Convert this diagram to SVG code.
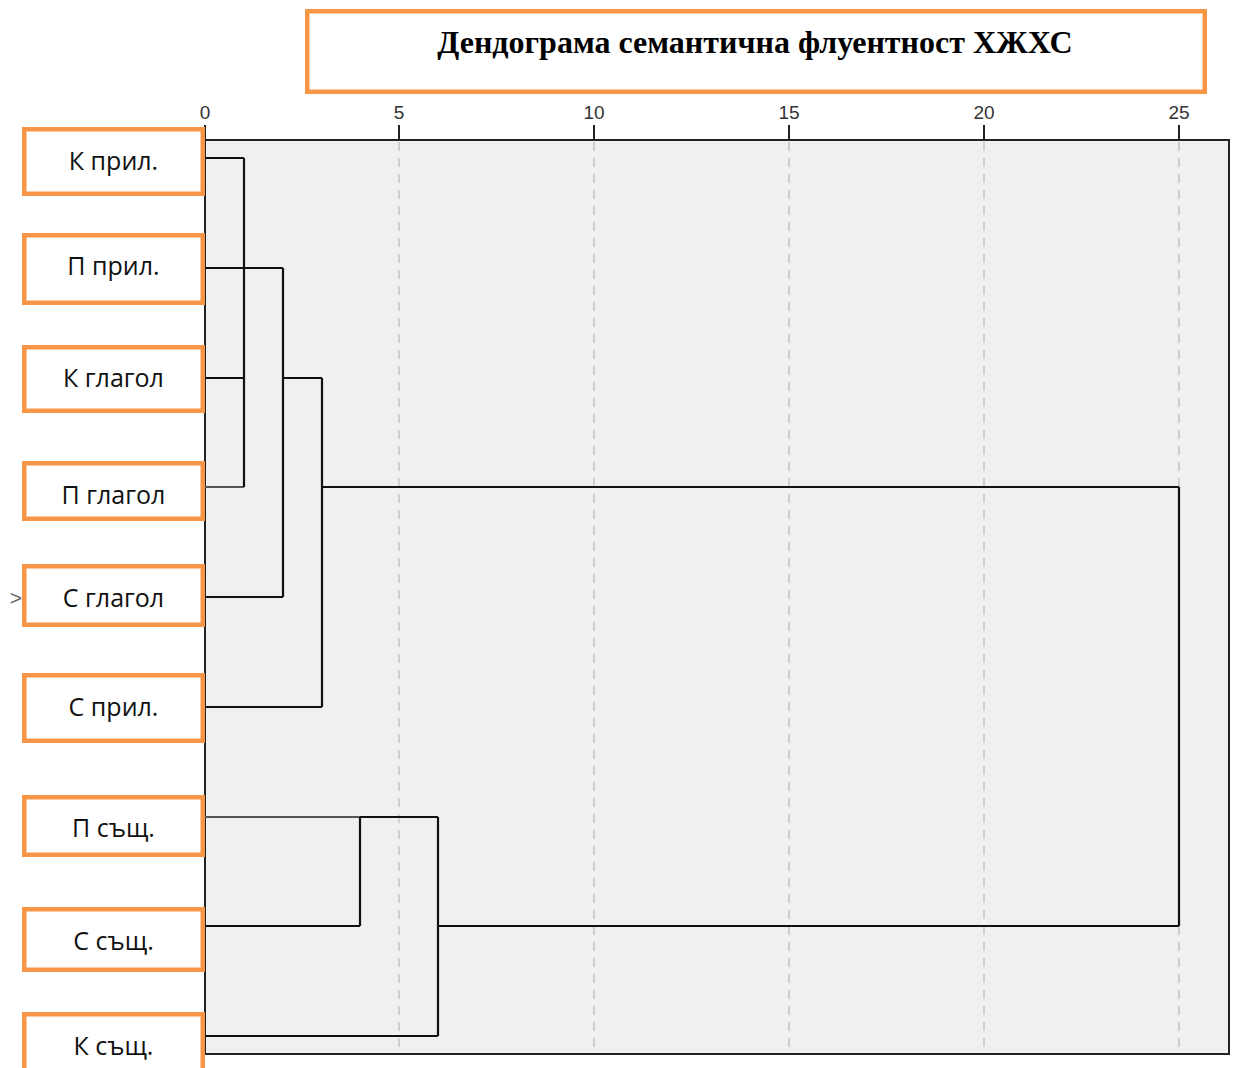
<svg xmlns="http://www.w3.org/2000/svg" width="1237" height="1068" viewBox="0 0 1237 1068">
<style>
.box{fill:#fff;stroke:#F79646;stroke-width:4.5}
.lbl{font-family:"Open Sans","DejaVu Sans",sans-serif;font-size:25px;fill:#111;text-anchor:middle}
.tick{font-family:"Liberation Sans",Arial,sans-serif;font-size:19px;fill:#333;text-anchor:middle}
.grid{stroke:#cfcfcf;stroke-width:2;stroke-dasharray:9 7;fill:none}
.dl{stroke:#111;stroke-width:2.2;fill:none}
.dg{stroke:#555;stroke-width:2;fill:none}
</style>
<rect width="1237" height="1068" fill="#fff"/>
<g id="title">
<rect x="307.25" y="11.25" width="897.5" height="80.5" class="box"/>
<text x="755" y="53" font-family="'Liberation Serif','Times New Roman',serif" font-weight="bold" font-size="32" text-anchor="middle" fill="#000">Дендограма семантична флуентност ХЖХС</text>
</g>
<g id="plot">
<rect x="205" y="140" width="1024" height="914" fill="#f0f0f0"/>
<g class="grid">
<path d="M399,142V1053M594,142V1053M789,142V1053M984,142V1053M1179,142V1053"/>
</g>
<path d="M205,140H1229V1054H205Z" fill="none" stroke="#222" stroke-width="2"/>
<path d="M205,125V140M399,125V140M594,125V140M789,125V140M984,125V140M1179,125V140" stroke="#222" stroke-width="2"/>
<text class="tick" x="205" y="119">0</text>
<text class="tick" x="399" y="119">5</text>
<text class="tick" x="594" y="119">10</text>
<text class="tick" x="789" y="119">15</text>
<text class="tick" x="984" y="119">20</text>
<text class="tick" x="1179" y="119">25</text>
</g>
<g id="connectors">
<path class="dl" d="M205,158H244"/>
<path class="dl" d="M205,268H283"/>
<path class="dl" d="M205,378H244"/>
<path class="dg" d="M205,487H244"/>
<path class="dl" d="M244,158V487"/>
<path class="dl" d="M205,597H283"/>
<path class="dl" d="M283,268V597"/>
<path class="dl" d="M283,378H322"/>
<path class="dl" d="M205,707H322"/>
<path class="dl" d="M322,378V707"/>
<path class="dl" d="M322,487H1179"/>
<path class="dg" d="M205,817H360"/>
<path class="dl" d="M360,817H438"/>
<path class="dl" d="M205,926H360"/>
<path class="dl" d="M360,817V926"/>
<path class="dl" d="M205,1036H438"/>
<path class="dl" d="M438,817V1036"/>
<path class="dl" d="M438,926H1179"/>
<path class="dl" d="M1179,487V926"/>
</g>
<g id="n1"><rect class="box" x="24.25" y="129.25" width="178.5" height="64.5"/><text class="lbl" x="113.5" y="170">К прил.</text></g>
<g id="n2"><rect class="box" x="24.25" y="235.25" width="178.5" height="67.5"/><text class="lbl" x="113.5" y="275">П прил.</text></g>
<g id="n3"><rect class="box" x="24.25" y="347.25" width="178.5" height="63.5"/><text class="lbl" x="113.5" y="387">К глагол</text></g>
<g id="n4"><rect class="box" x="24.25" y="463.25" width="178.5" height="55.5"/><text class="lbl" x="113.5" y="504">П глагол</text></g>
<g id="n5"><rect class="box" x="24.25" y="566.25" width="178.5" height="58.5"/><text class="lbl" x="113.5" y="607">С глагол</text></g>
<g id="n6"><rect class="box" x="24.25" y="675.25" width="178.5" height="65.5"/><text class="lbl" x="113.5" y="716">С прил.</text></g>
<g id="n7"><rect class="box" x="24.25" y="797.25" width="178.5" height="57.5"/><text class="lbl" x="113.5" y="837">П същ.</text></g>
<g id="n8"><rect class="box" x="24.25" y="909.25" width="178.5" height="60.5"/><text class="lbl" x="113.5" y="950">С същ.</text></g>
<g id="n9"><rect class="box" x="24.25" y="1014.25" width="178.5" height="64"/><text class="lbl" x="113.5" y="1055">К същ.</text></g>
<text x="16" y="605" font-family="'Liberation Sans',Arial,sans-serif" font-size="21" fill="#666" text-anchor="middle">&gt;</text>
</svg>
